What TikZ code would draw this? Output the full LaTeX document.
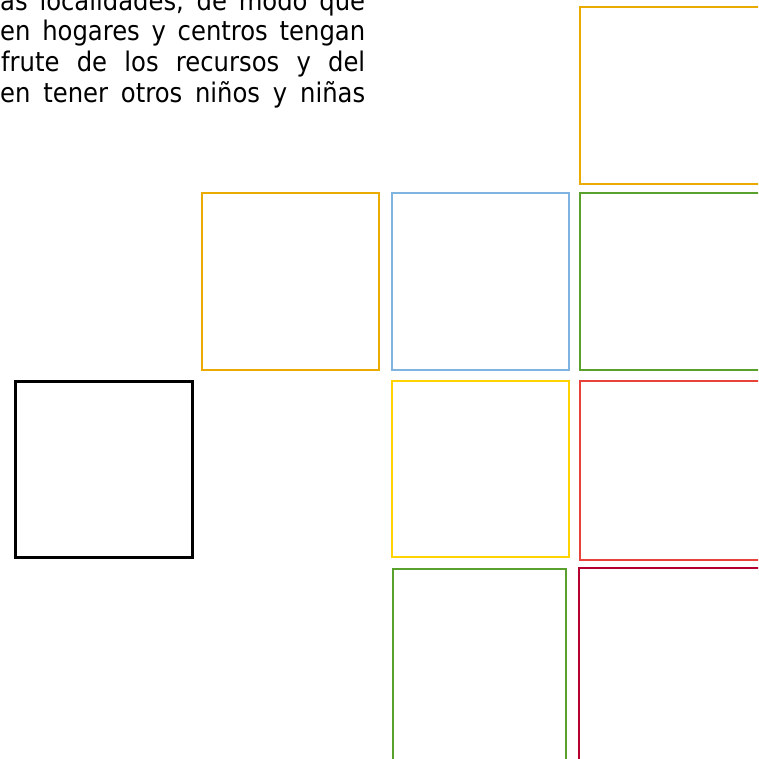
\documentclass[tikz,border=0pt]{standalone}
\usepackage{fontspec}
\newfontfamily\txtfont{DejaVu Sans Condensed}
\definecolor{cOrange}{HTML}{EBAA00}
\definecolor{cBlue}{HTML}{7FB3E0}
\definecolor{cGreen}{HTML}{5AA02C}
\definecolor{cYellow}{HTML}{FFD200}
\definecolor{cRed}{HTML}{E8433A}
\definecolor{cCrimson}{HTML}{B5002F}
\begin{document}
\begin{tikzpicture}[x=1pt,y=-1pt,
  panel/.style={rectangle, inner sep=0pt, outer sep=0pt, line width=2.6pt, fill=white},
  textline/.style={anchor=base west, inner sep=0pt, font=\txtfont\fontsize{27}{31}\selectfont, text=black}]
\useasboundingbox (0,0) rectangle (758,759);
\clip (0,0) rectangle (758,759);
% text lines
\node[textline] (l1) at (0,11) {\makebox[365pt][s]{as localidades, de modo que}};
\node[textline] (l2) at (0,41) {\makebox[365pt][s]{en hogares y centros tengan}};
\node[textline] (l3) at (1,72) {\makebox[364pt][s]{frute de los recursos y del}};
\node[textline] (l4) at (0,103) {\makebox[365pt][s]{en tener otros niños y niñas}};
% panels
\node[panel, draw=cOrange, minimum width=190pt, minimum height=177pt] (o1) at (675,95.5) {};
\node[panel, draw=cOrange, minimum width=177pt, minimum height=177pt] (o2) at (290.5,281.5) {};
\node[panel, draw=cBlue, minimum width=177pt, minimum height=177pt] (b1) at (480.5,281.5) {};
\node[panel, draw=cGreen, minimum width=190pt, minimum height=177pt] (g1) at (675,281.5) {};
\node[panel, draw=black, line width=3pt, minimum width=177pt, minimum height=176pt] (k1) at (103.5,469) {};
\node[panel, draw=cYellow, minimum width=177pt, minimum height=176pt] (y1) at (480.5,469) {};
\node[panel, draw=cRed, minimum width=190pt, minimum height=179pt] (r1) at (675,470.5) {};
\node[panel, draw=cGreen, minimum width=173pt, minimum height=200pt] (g2) at (479.5,669) {};
\node[panel, draw=cCrimson, minimum width=191pt, minimum height=202pt] (c1) at (674.5,669) {};
\end{tikzpicture}
\end{document}
